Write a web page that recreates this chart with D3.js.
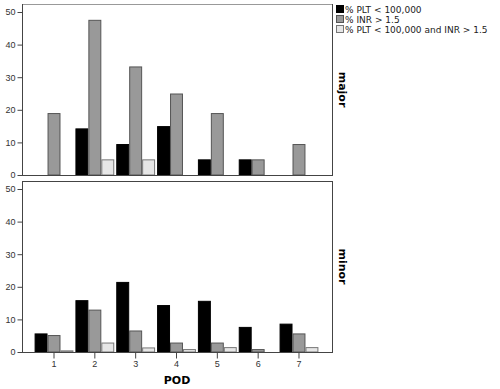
<!DOCTYPE html>
<html>
<head>
<meta charset="utf-8">
<script src="https://cdn.jsdelivr.net/npm/d3@7"></script>
<style>
  body { margin: 0; background: #fff; }
  svg { font-family: "DejaVu Sans", sans-serif; }
</style>
</head>
<body>
<div id="chart"></div>
<script>
// POD days and the two panels
const pods = ["1", "2", "3", "4", "5", "6", "7"];
const panels = ["major", "minor"];
const seriesNames = ["% PLT < 100,000", "% INR > 1.5", "% PLT < 100,000 and INR > 1.5"];

// values
const majorPlt = [0, 14.3, 9.5, 15.0, 4.8, 4.8, 0];
const majorInr = [19.0, 47.6, 33.3, 25.0, 19.0, 4.8, 9.5];
const majorBoth = [0, 4.8, 4.8, 0, 0, 0, 0];
const minorPlt = [5.7, 15.9, 21.5, 14.4, 15.7, 7.7, 8.7];
const minorInr = [5.2, 13.0, 6.6, 2.9, 2.9, 0.9, 5.7];
const minorBoth = [0.5, 2.9, 1.4, 0.9, 1.5, 0, 1.5];
const yTicks = [0, 10, 20, 30, 40, 50];

const fills = ["#000000", "#999999", "#e6e6e6"];
const strokes = ["#000000", "#555555", "#777777"];

const width = 500, height = 389;
const left = 22, right = 332;
const panelBox = [{top: 4, bottom: 175}, {top: 181, bottom: 352}];
const panelData = [[majorPlt, majorInr, majorBoth], [minorPlt, minorInr, minorBoth]];

const svg = d3.select("#chart").append("svg")
  .attr("width", width)
  .attr("height", height);

// x: one band per POD, sub band per series
let x = d3.scaleBand().domain(pods).range([33.6, 319.4]).paddingInner(0).paddingOuter(0);
let xs = d3.scaleBand().domain(d3.range(3)).range([0, x.bandwidth()]).paddingOuter(0.077);

panels.forEach(function(name, p) {
  let box = panelBox[p];
  let y = d3.scaleLinear().domain([0, 50]).range([box.bottom, box.top + 8]);

  let g = svg.append("g");

  // frame: top and right
  g.append("line")
    .attr("x1", left).attr("x2", right)
    .attr("y1", box.top + 0.5).attr("y2", box.top + 0.5)
    .attr("stroke", p == 0 ? "#999" : "#444").attr("stroke-width", 1);
  g.append("line")
    .attr("x1", right + 0.5).attr("x2", right + 0.5)
    .attr("y1", box.top).attr("y2", box.bottom)
    .attr("stroke", "#444").attr("stroke-width", 1);

  // bars
  let rows = [];
  pods.forEach(function(pod, i) {
    panelData[p].forEach(function(vals, s) {
      rows.push({pod: pod, s: s, v: vals[i]});
    });
  });

  g.selectAll("rect.bar")
    .data(rows).enter()
    .append("rect")
    .attr("class", "bar")
    .attr("x", d => x(d.pod) + xs(d.s) + 0.5)
    .attr("width", xs.bandwidth() - 1)
    .attr("y", d => y(d.v) + 0.5)
    .attr("height", d => Math.max(0, y(0) - y(d.v) - 0.5))
    .attr("fill", d => fills[d.s])
    .attr("stroke", d => d.v == 0 ? "#dddddd" : strokes[d.s])
    .attr("stroke-width", 1);

  // y axis
  let yAxis = d3.axisLeft(y).tickValues(yTicks).tickSize(5).tickPadding(2);
  let ya = g.append("g")
    .attr("transform", "translate(" + (left + 0.5) + ",0)")
    .call(yAxis);
  ya.select(".domain").attr("stroke", "#444").attr("d", "M0," + box.top + "V" + (box.bottom + 0.5));
  ya.selectAll(".tick line").attr("stroke", "#444");
  ya.selectAll(".tick text").attr("fill", "#333").style("font-size", "9px");

  // baseline
  g.append("line")
    .attr("x1", left).attr("x2", right + 1)
    .attr("y1", y(0) + 0.5).attr("y2", y(0) + 0.5)
    .attr("stroke", "#444");

  // panel label on the right
  g.append("text")
    .attr("transform", "translate(" + (right + 7) + "," + ((box.top + box.bottom) / 2) + ") rotate(90)")
    .attr("text-anchor", "middle")
    .style("font-size", "11px")
    .style("font-weight", "bold")
    .text(name);
});

// x axis under the lower panel
let xAxis = d3.axisBottom(x).tickSize(6).tickPadding(2);
let xa = svg.append("g")
  .attr("transform", "translate(0," + (panelBox[1].bottom + 0.5) + ")")
  .call(xAxis);
xa.select(".domain").remove();
xa.selectAll(".tick line").attr("stroke", "#444");
xa.selectAll(".tick text").attr("fill", "#333").style("font-size", "9px");

svg.append("text")
  .attr("x", 177).attr("y", 384)
  .attr("text-anchor", "middle")
  .style("font-size", "11px")
  .style("font-weight", "bold")
  .text("POD");

// legend
let legend = svg.append("g").attr("transform", "translate(336,5)");
seriesNames.forEach(function(s, i) {
  let row = legend.append("g").attr("transform", "translate(0," + (i * 10) + ")");
  row.append("rect")
    .attr("x", 0.5).attr("y", 0.5)
    .attr("width", 7).attr("height", 7)
    .attr("fill", fills[i]).attr("stroke", strokes[i]);
  row.append("text")
    .attr("x", 9).attr("y", 7.5)
    .style("font-size", "9px")
    .attr("fill", "#222")
    .text(s);
});
</script>
</body>
</html>
